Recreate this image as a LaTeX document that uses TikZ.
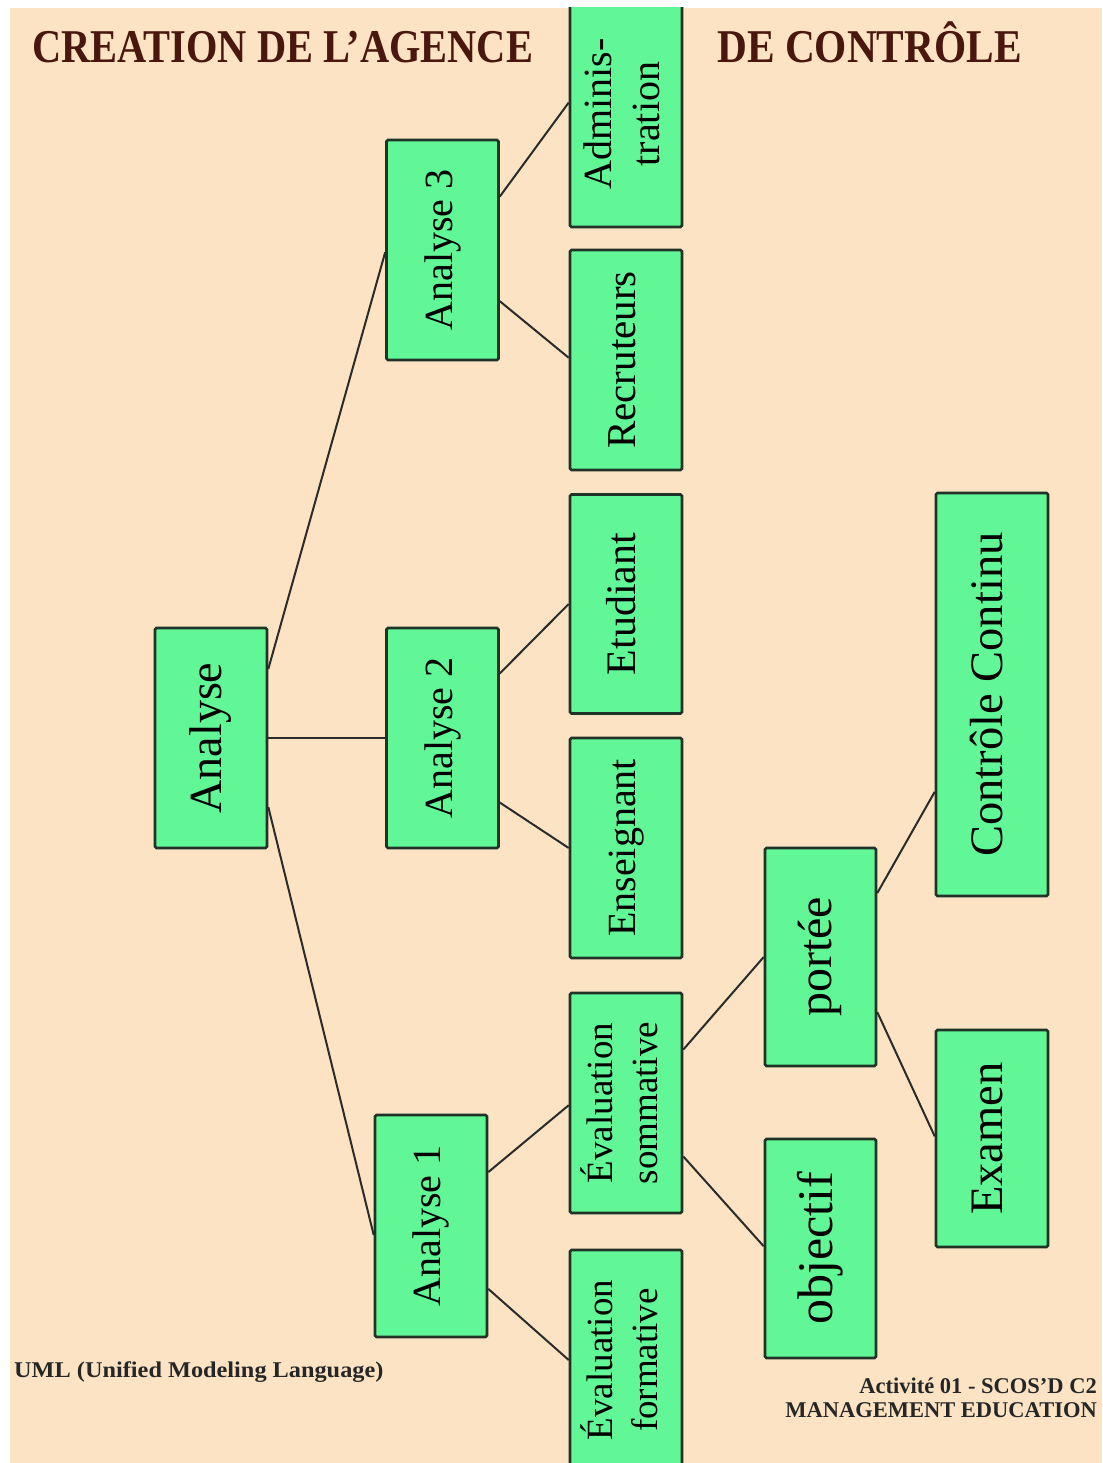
\documentclass[tikz,border=0pt]{standalone}
\usepackage{fontspec}
\usepackage{graphicx}
\setmainfont{Liberation Serif}
\usetikzlibrary{calc}
\definecolor{bgpeach}{HTML}{FBE3C3}
\definecolor{boxgreen}{HTML}{62F796}
\definecolor{boxline}{HTML}{1F3326}
\definecolor{titlebrown}{HTML}{4A170F}
\definecolor{linkgray}{HTML}{2B2B2B}
\newcommand{\fsz}[2]{\fontsize{#1}{#2}\selectfont}
\newcommand{\vtext}[1]{\rotatebox{90}{\begin{tabular}{@{}c@{}}#1\end{tabular}}}
\tikzset{
  box/.style={draw=boxline, line width=2.6pt, fill=boxgreen, rounded corners=1.5pt,
    inner sep=0pt, minimum width=112pt, minimum height=220pt, text=black},
  link/.style={draw=linkgray, line width=2pt},
  titletext/.style={text=titlebrown, font=\bfseries\fsz{47}{52}, inner sep=0pt},
  foottext/.style={text=black!85, font=\bfseries\fsz{22.5}{26}, inner sep=0pt}
}
\begin{document}
\begin{tikzpicture}[x=1pt,y=-1pt]
\useasboundingbox (0,0) rectangle (1102,1463);
\fill[white] (0,0) rectangle (1102,1463);
\fill[bgpeach] (10,8) rectangle (1102,1463);
\begin{scope}
\clip (10,8) rectangle (1102,1463);
% titles
\node[titletext, anchor=base west] (t1) at (32,63) {\scalebox{0.86}[1]{CREATION DE L’AGENCE}};
\node[titletext, anchor=base west] (t2) at (717,63) {\scalebox{0.88}[1]{DE CONTRÔLE}};
% boxes
\node[box, font=\fsz{46}{54}] (an) at (211,738) {\vtext{Analyse}};
\node[box, font=\fsz{40}{48}] (a3) at (442.5,250) {\vtext{Analyse 3}};
\node[box, font=\fsz{40}{48}] (a2) at (442.5,738) {\vtext{Analyse 2}};
\node[box, font=\fsz{40}{48}, minimum height=222pt] (a1) at (431,1226) {\vtext{Analyse 1}};
\node[box, font=\fsz{40}{48}, minimum height=226pt] (adm) at (626,114) {\vtext{Adminis-\\tration}};
\node[box, font=\fsz{41}{48}] (rec) at (626,360) {\vtext{Recruteurs}};
\node[box, font=\fsz{42}{48}, minimum height=219pt] (etu) at (626,604) {\vtext{Etudiant}};
\node[box, font=\fsz{40}{48}] (ens) at (626,848) {\vtext{Enseignant}};
\node[box, font=\fsz{37}{45}] (evs) at (626,1103) {\vtext{Évaluation\\sommative}};
\node[box, font=\fsz{37}{45}] (evf) at (626,1360) {\vtext{Évaluation\\formative}};
\node[box, font=\fsz{48}{56}, minimum width=111pt, minimum height=218pt] (por) at (820.5,957) {\vtext{portée}};
\node[box, font=\fsz{50}{58}, minimum width=111pt, minimum height=219pt] (obj) at (820.5,1248.5) {\vtext{objectif}};
\node[box, font=\fsz{46.5}{54}, minimum height=403pt] (cc) at (992,694.5) {\vtext{Contrôle Continu}};
\node[box, font=\fsz{46.5}{54}, minimum height=217pt] (exa) at (992,1138.5) {\vtext{Examen}};
% connectors
\draw[link] ($(an.north east)!0.19!(an.south east)$) -- ($(a3.north west)!0.51!(a3.south west)$);
\draw[link] (an.east) -- (a2.west);
\draw[link] ($(an.north east)!0.81!(an.south east)$) -- ($(a1.north west)!0.54!(a1.south west)$);
\draw[link] ($(a3.north east)!0.26!(a3.south east)$) -- ($(adm.north west)!0.45!(adm.south west)$);
\draw[link] ($(a3.north east)!0.73!(a3.south east)$) -- ($(rec.north west)!0.49!(rec.south west)$);
\draw[link] ($(a2.north east)!0.21!(a2.south east)$) -- ($(etu.north west)!0.5!(etu.south west)$);
\draw[link] ($(a2.north east)!0.79!(a2.south east)$) -- ($(ens.north west)!0.5!(ens.south west)$);
\draw[link] ($(a1.north east)!0.26!(a1.south east)$) -- ($(evs.north west)!0.51!(evs.south west)$);
\draw[link] ($(a1.north east)!0.78!(a1.south east)$) -- ($(evf.north west)!0.5!(evf.south west)$);
\draw[link] ($(evs.north east)!0.26!(evs.south east)$) -- ($(por.north west)!0.5!(por.south west)$);
\draw[link] ($(evs.north east)!0.74!(evs.south east)$) -- ($(obj.north west)!0.49!(obj.south west)$);
\draw[link] ($(por.north east)!0.21!(por.south east)$) -- ($(cc.north west)!0.74!(cc.south west)$);
\draw[link] ($(por.north east)!0.75!(por.south east)$) -- ($(exa.north west)!0.49!(exa.south west)$);
% footers
\node[foottext, anchor=base west] (uml) at (14,1377) {\scalebox{1.08}[1]{UML (Unified Modeling Language)}};
\node[foottext, anchor=base east] (act) at (1097,1393) {Activité 01 - SCOS’D C2};
\node[foottext, anchor=base east] (mgt) at (1097,1417) {MANAGEMENT EDUCATION};
\end{scope}
\end{tikzpicture}
\end{document}
